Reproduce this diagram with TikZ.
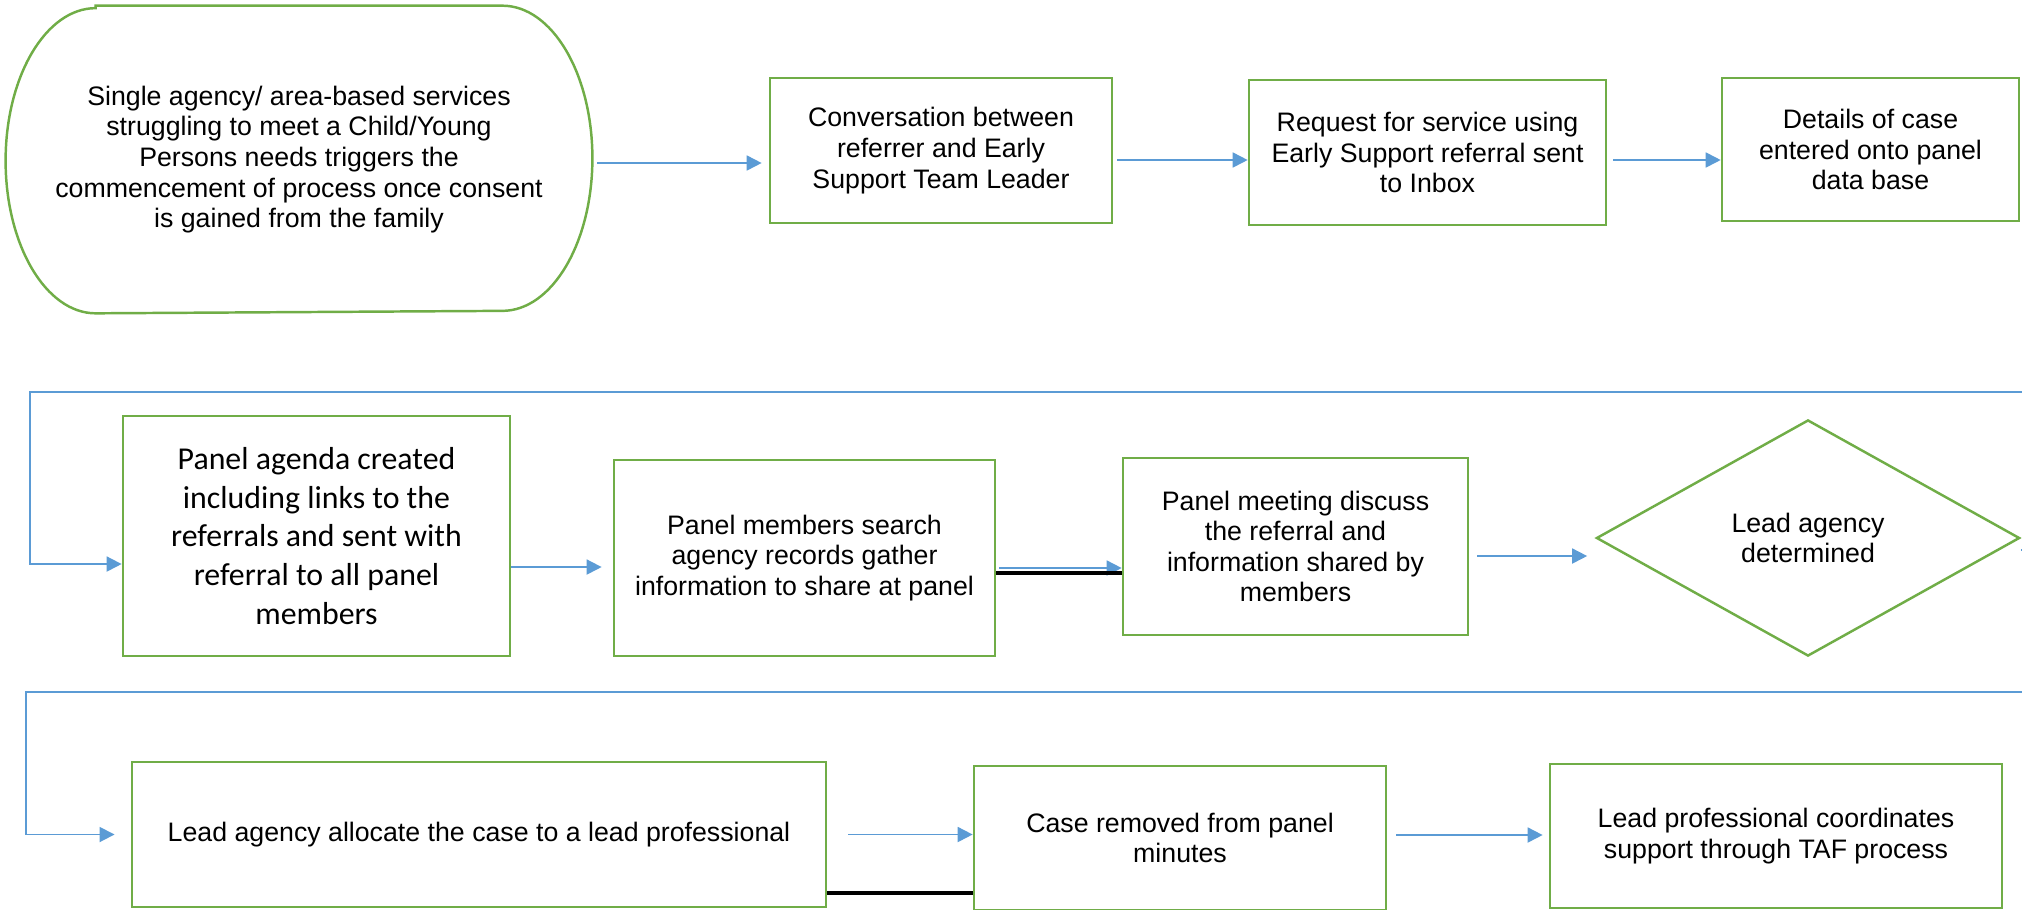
\documentclass[tikz,border=0pt]{standalone}
\usepackage{fontspec}
\setmainfont{Liberation Sans}
\newfontfamily\calibri{Carlito}
\usepackage{xcolor}
\usetikzlibrary{shapes.geometric,arrows.meta,calc}
\definecolor{boxgreen}{HTML}{70AD47}
\definecolor{linkblue}{HTML}{5B9BD5}

\begin{document}
\begin{tikzpicture}[x=0.01cm, y=-0.01cm,
    box/.style={draw=boxgreen, line width=0.7pt, align=center, inner sep=0pt,
        font=\fontsize{7.6}{8.7}\selectfont},
    flow/.style={draw=linkblue, line width=0.5pt, -{Triangle[length=0.15cm,width=0.15cm]}},
    bar/.style={draw=black, line width=1pt}]
    \useasboundingbox (0,0) rectangle (2022,909);
    \clip (0,0) rectangle (2022,909);

    % Row 1
    \node[box, draw=none, minimum width=5.84cm, minimum height=3.05cm] (start) at (299,159.5)
        {Single agency/ area-based services\\ struggling to meet a Child/Young\\ Persons needs triggers the\\ commencement of process once consent\\ is gained from the family};
    \draw[draw=boxgreen, line width=0.7pt] ([xshift=0.9cm]start.north west) -- ([xshift=-0.9cm]start.north east)
        arc[start angle=90, end angle=-90, x radius=0.9cm, y radius=1.525cm]
        -- ([xshift=0.9cm]start.south west)
        arc[start angle=270, end angle=90, x radius=0.9cm, y radius=1.525cm] -- cycle;
    \node[box, minimum width=3.42cm, minimum height=1.45cm] (conv) at (941,150.5)
        {Conversation between\\ referrer and Early\\ Support Team Leader};
    \node[box, minimum width=3.57cm, minimum height=1.45cm] (req) at (1427.5,152.5)
        {Request for service using\\ Early Support referral sent\\ to Inbox};
    \node[box, minimum width=2.97cm, minimum height=1.43cm] (details) at (1870.5,149.5)
        {Details of case\\ entered onto panel\\ data base};

    \draw[flow, shorten <=0.05cm, shorten >=0.07cm] ([yshift=-0.035cm]start.east) -- ([yshift=-0.035cm]start.east -| conv.west);
    \draw[flow, shorten <=0.04cm] ([yshift=-0.095cm]conv.east) -- ([yshift=-0.095cm]conv.east -| req.west);
    \draw[flow, shorten <=0.06cm] ([yshift=-0.075cm]req.east) -- ([yshift=-0.075cm]req.east -| details.west);

    % Row 2
    \coordinate (edgeA) at (2022,392);
    \coordinate (turnA) at (30,392);
    \node[box, font=\calibri\fontsize{9.05}{11}\selectfont, minimum width=3.87cm, minimum height=2.4cm] (agenda) at (316.5,536)
        {Panel agenda created\\ including links to the\\ referrals and sent with\\ referral to all panel\\ members};
    \node[box, minimum width=3.81cm, minimum height=1.96cm] (members) at (804.5,558)
        {Panel members search\\ agency records gather\\ information to share at panel};
    \node[box, minimum width=3.45cm, minimum height=1.77cm] (meeting) at (1295.5,546.5)
        {Panel meeting discuss\\ the referral and\\ information shared by\\ members};
    \node[box, diamond, minimum width=4.23cm, minimum height=2.36cm] (decide) at (1808,538)
        {Lead agency\\ determined};

    \draw[flow] (edgeA) -- (turnA) |- ([yshift=-0.28cm]agenda.west);
    \draw[flow, shorten >=0.11cm] ([yshift=-0.31cm]agenda.east) -- ([yshift=-0.31cm]agenda.east -| members.west);
    \draw[flow, shorten <=0.03cm] ([yshift=-0.1cm]members.east) -- ([yshift=-0.1cm]members.east -| meeting.west);
    \draw[bar] ([yshift=-0.15cm]members.east) -- ([yshift=-0.15cm]members.east -| meeting.west);
    \draw[flow, shorten <=0.08cm, shorten >=0.08cm] ([yshift=-0.095cm]meeting.east) -- ([yshift=-0.095cm]meeting.east -| decide.west);

    % Row 3
    \coordinate (turnB) at (26,692);
    \node[box, minimum width=6.94cm, minimum height=1.45cm] (allocate) at (479,834.5)
        {Lead agency allocate the case to a lead professional};
    \node[box, minimum width=4.12cm, minimum height=1.44cm] (removed) at (1180,838)
        {Case removed from panel\\ minutes};
    \node[box, minimum width=4.52cm, minimum height=1.44cm] (taf) at (1776,836)
        {Lead professional coordinates\\ support through TAF process};

    \draw[flow, shorten >=0.16cm] ([yshift=-0.12cm]decide.east) -- ++(0.4cm,0) |- (turnB) |- (allocate.west);
    \draw[flow, shorten <=0.21cm] (allocate.east) -- (allocate.east -| removed.west);
    \draw[bar] ([yshift=-0.585cm]allocate.east) -- ([yshift=-0.585cm]allocate.east -| removed.west);
    \draw[flow, shorten <=0.09cm, shorten >=0.06cm] ([yshift=0.03cm]removed.east) -- ([yshift=0.03cm]removed.east -| taf.west);
\end{tikzpicture}
\end{document}
